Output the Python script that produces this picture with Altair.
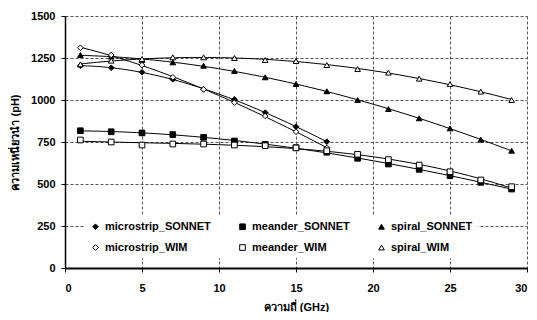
import altair as alt
import pandas as pd

freq_micro = [1, 3, 5, 7, 9, 11, 13, 15, 17]
freq_long = [1, 3, 5, 7, 9, 11, 13, 15, 17, 19, 21, 23, 25, 27, 29]

micro_sonnet = [1204, 1192, 1165, 1123, 1063, 1004, 925, 841, 752]
micro_wim = [1311, 1268, 1208, 1135, 1063, 984, 905, 811, 715]
meander_sonnet = [817, 811, 804, 794, 778, 756, 736, 716, 689, 653, 619, 587, 550, 510, 470]
meander_wim = [762, 750, 732, 738, 738, 732, 728, 715, 698, 677, 645, 613, 573, 524, 484]
spiral_sonnet = [1268, 1258, 1238, 1224, 1204, 1173, 1135, 1095, 1052, 1000, 946, 891, 831, 764, 698]
spiral_wim = [1212, 1234, 1244, 1254, 1254, 1250, 1238, 1232, 1208, 1184, 1163, 1127, 1095, 1050, 1000]

series_names = ["microstrip_SONNET", "meander_SONNET", "spiral_SONNET",
                "microstrip_WIM", "meander_WIM", "spiral_WIM"]
series_freqs = [freq_micro, freq_long, freq_long, freq_micro, freq_long, freq_long]
series_vals = [micro_sonnet, meander_sonnet, spiral_sonnet, micro_wim, meander_wim, spiral_wim]

rows = []
for name, fs, vs in zip(series_names, series_freqs, series_vals):
    for f, v in zip(fs, vs):
        rows.append({"series": name, "GHz": f, "pH": v})
df = pd.DataFrame(rows)

shapes = ["diamond", "square", "triangle-up", "diamond", "square", "triangle-up"]
fills = ["black", "black", "black", "white", "white", "white"]
strokes = ["black"] * 6

xenc = alt.X("GHz:Q", scale=alt.Scale(domain=[0, 30], nice=False),
             axis=alt.Axis(values=[0, 5, 10, 15, 20, 25, 30], title="ความถี่ (GHz)"))
yenc = alt.Y("pH:Q", scale=alt.Scale(domain=[0, 1500], nice=False),
             axis=alt.Axis(values=[0, 250, 500, 750, 1000, 1250, 1500], format="d",
                           title="ความเหนี่ยวนำ (pH)"))

base = alt.Chart(df)

lines = base.transform_regression(
    "GHz", "pH", groupby=["series"], method="poly", order=3
).mark_line(color="black", strokeWidth=1).encode(
    x=xenc, y=yenc, detail="series:N"
)

leg = alt.Legend(title=None, orient="none", legendX=20, legendY=200,
                 columns=3, columnPadding=26, rowPadding=9, direction="horizontal",
                 fillColor="white", padding=5,
                 symbolStrokeColor="black", symbolStrokeWidth=1,
                 symbolSize=32, labelFont="Liberation Sans",
                 labelFontSize=11, labelFontWeight="bold",
                 labelColor="black")

points = base.mark_point(filled=False, color="black", strokeWidth=1, size=32, opacity=1).encode(
    x=xenc, y=yenc,
    shape=alt.Shape("series:N", scale=alt.Scale(domain=series_names, range=shapes), legend=leg),
    fill=alt.Fill("series:N", scale=alt.Scale(domain=series_names, range=fills), legend=leg),
    stroke=alt.Stroke("series:N", scale=alt.Scale(domain=series_names, range=strokes), legend=leg),
)

chart = alt.layer(lines, points).properties(
    width=462, height=252,
    autosize=alt.AutoSizeParams(type="none"),
    padding={"left": 57, "top": 8, "right": 2, "bottom": 44},
).configure_view(stroke=None).configure_axis(
    labelFont="Liberation Sans", labelFontSize=11, labelFontWeight="bold", labelColor="black",
    titleFont="Liberation Sans", titleFontSize=11, titleFontWeight="bold", titleColor="black",
    gridColor="#555", gridDash=[3, 2], gridWidth=1,
    tickColor="black", tickSize=4, domainColor="black",
).configure_axisX(
    domainWidth=2, labelPadding=10, titlePadding=8
).configure_axisY(
    domainWidth=1.5, labelPadding=6, titlePadding=10
)

chart.save("out.html", embed_options={"renderer": "svg", "actions": False})
